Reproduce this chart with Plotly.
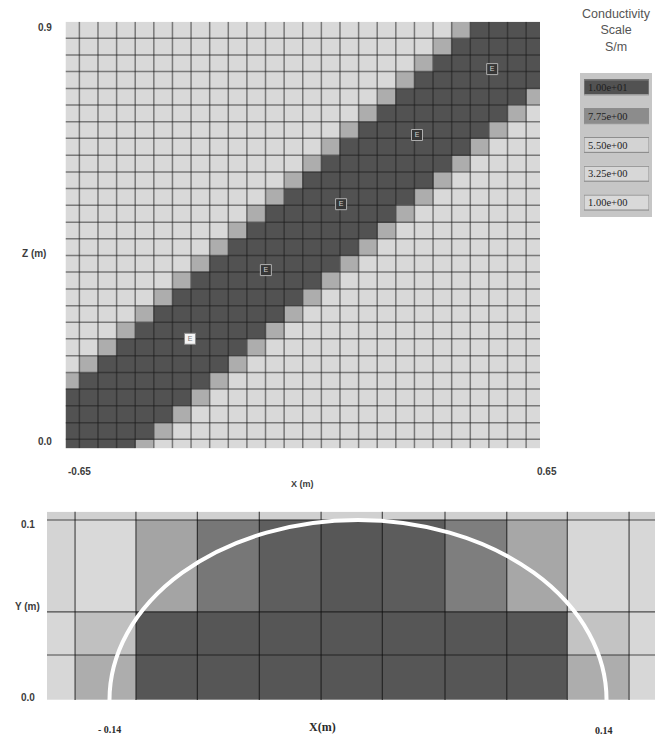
import plotly.graph_objects as go

# ---------------- data ----------------
# Top panel: conductivity map in the X-Z plane, rows listed from top (Z=0.9) to bottom (Z=0)
# L = background (1 S/m), M = transition cells, D = saturated band (10 S/m)
top_rows = [
    "LLLLLLLLLLLLLLLLLLLLLMDDDD",
    "LLLLLLLLLLLLLLLLLLLLMDDDDD",
    "LLLLLLLLLLLLLLLLLLLMDDDDDD",
    "LLLLLLLLLLLLLLLLLLMDDDDDDD",
    "LLLLLLLLLLLLLLLLLMDDDDDDDM",
    "LLLLLLLLLLLLLLLLMDDDDDDDML",
    "LLLLLLLLLLLLLLLMDDDDDDDMLL",
    "LLLLLLLLLLLLLLMDDDDDDDMLLL",
    "LLLLLLLLLLLLLMDDDDDDDMLLLL",
    "LLLLLLLLLLLLMDDDDDDDMLLLLL",
    "LLLLLLLLLLLMDDDDDDDMLLLLLL",
    "LLLLLLLLLLMDDDDDDDMLLLLLLL",
    "LLLLLLLLLMDDDDDDDMLLLLLLLL",
    "LLLLLLLLMDDDDDDDMLLLLLLLLL",
    "LLLLLLLMDDDDDDDMLLLLLLLLLL",
    "LLLLLLMDDDDDDDMLLLLLLLLLLL",
    "LLLLLMDDDDDDDMLLLLLLLLLLLL",
    "LLLLMDDDDDDDMLLLLLLLLLLLLL",
    "LLLMDDDDDDDMLLLLLLLLLLLLLL",
    "LLMDDDDDDDMLLLLLLLLLLLLLLL",
    "LMDDDDDDDMLLLLLLLLLLLLLLLL",
    "MDDDDDDDMLLLLLLLLLLLLLLLLL",
    "DDDDDDDMLLLLLLLLLLLLLLLLLL",
    "DDDDDDMLLLLLLLLLLLLLLLLLLL",
    "DDDDDMLLLLLLLLLLLLLLLLLLLL",
    "DDDDMLLLLLLLLLLLLLLLLLLLLL",
]
cell_level = {"L": 1.0, "M": 6.7, "D": 10.0}

top_x_edges = [-0.65, -0.612, -0.561, -0.510, -0.459, -0.408, -0.357, -0.306, -0.255,
               -0.204, -0.153, -0.102, -0.051, 0.000, 0.051, 0.102, 0.153, 0.204,
               0.255, 0.306, 0.357, 0.408, 0.459, 0.510, 0.561, 0.612, 0.65]
top_z_edges = [0.0, 0.019, 0.054, 0.090, 0.125, 0.160, 0.195, 0.231, 0.266, 0.301,
               0.336, 0.372, 0.407, 0.442, 0.477, 0.513, 0.548, 0.583, 0.618, 0.654,
               0.689, 0.724, 0.759, 0.795, 0.830, 0.865, 0.9]

electrode_x = [-0.309, -0.101, 0.105, 0.313, 0.519]
electrode_z = [0.231, 0.376, 0.515, 0.661, 0.800]
electrode_tag = ["E", "E", "E", "E", "E"]

# Bottom panel: cross-section in the X-Y plane (rows listed bottom -> top)
bot_x_edges = [-0.1752, -0.1594, -0.1251, -0.0905, -0.0556, -0.0208, 0.0137,
               0.0490, 0.0838, 0.1179, 0.1527, 0.1673]
bot_y_edges = [0.0, 0.025, 0.049, 0.100, 0.1046]
bot_rows = [
    [3.0, 6.7, 9.85, 9.85, 9.85, 9.85, 9.85, 9.85, 9.85, 6.7, 3.0],
    [3.0, 6.1, 9.85, 9.85, 9.85, 9.85, 9.85, 9.85, 9.85, 6.0, 3.0],
    [4.8, 1.5, 7.0, 8.56, 9.53, 9.8, 9.6, 8.3, 6.9, 3.0, 3.0],
    [5.6, 5.6, 5.6, 5.6, 5.6, 5.6, 5.6, 5.6, 5.6, 5.6, 5.6],
]
body_half_width = 0.14
body_height = 0.10

# Conductivity scale (S/m), top to bottom
legend_levels = [10.0, 7.75, 5.5, 3.25, 1.0]
legend_labels = ["1.00e+01", "7.75e+00", "5.50e+00", "3.25e+00", "1.00e+00"]

# ---------------- figure ----------------
W, H = 655, 736
gray_scale = [[0.0, "#d9d9d9"], [0.25, "#d7d7d7"], [0.5, "#d3d3d3"],
              [0.75, "#8c8c8c"], [1.0, "#525252"]]

fig = go.Figure()

z_top = [[cell_level[ch] for ch in row] for row in reversed(top_rows)]
fig.add_trace(go.Heatmap(x=top_x_edges, y=top_z_edges, z=z_top, colorscale=gray_scale,
                         zmin=1, zmax=10, showscale=False, hoverinfo="skip",
                         xaxis="x", yaxis="y"))

# cell outlines of the top mesh (drawn as one line trace so that electrodes sit on top)
gx, gy = [], []
for e in top_x_edges[1:-1]:
    gx += [e, e, None]
    gy += [top_z_edges[0], top_z_edges[-1], None]
for e in top_z_edges[1:-1]:
    gx += [top_x_edges[0], top_x_edges[-1], None]
    gy += [e, e, None]
fig.add_trace(go.Scatter(x=gx, y=gy, mode="lines", line=dict(color="rgba(25,25,25,0.5)", width=1.5),
                         hoverinfo="skip", showlegend=False, xaxis="x", yaxis="y"))

fig.add_trace(go.Scatter(
    x=electrode_x, y=electrode_z, mode="markers+text", text=electrode_tag,
    textposition="middle center",
    textfont=dict(size=7, color=["#777777", "#cfcfcf", "#cfcfcf", "#cfcfcf", "#cfcfcf"],
                  family="Liberation Sans"),
    marker=dict(symbol="square", size=11,
                color=["#f4f4f4", "#363636", "#363636", "#363636", "#363636"],
                line=dict(color=["#8a8a8a", "#b0b0b0", "#b0b0b0", "#b0b0b0", "#b0b0b0"], width=1)),
    hoverinfo="skip", showlegend=False, xaxis="x", yaxis="y"))

fig.add_trace(go.Heatmap(x=bot_x_edges, y=bot_y_edges, z=bot_rows, colorscale=gray_scale,
                         zmin=1, zmax=10, showscale=False, hoverinfo="skip",
                         xaxis="x2", yaxis="y2"))

leg_edges = list(range(len(legend_levels) + 1))
fig.add_trace(go.Heatmap(x=[0, 1], y=leg_edges,
                         z=[[v] for v in reversed(legend_levels)],
                         colorscale=gray_scale, zmin=1, zmax=10, showscale=False,
                         ygap=13.8, hoverinfo="skip", xaxis="x3", yaxis="y3"))

shapes = []
# legend panel
shapes.append(dict(type="rect", xref="paper", yref="paper", x0=580 / W, x1=652 / W,
                   y0=1 - 217 / H, y1=1 - 73 / H, fillcolor="#c6c6c6",
                   line=dict(width=0), layer="below"))
# legend box outlines
g = (13.8 / 2) / (144 / 5)
for i in range(len(legend_levels)):
    shapes.append(dict(type="rect", xref="x3", yref="y3", x0=0, x1=1, y0=i + g, y1=i + 1 - g,
                       line=dict(color="#8e8e8e", width=1), fillcolor="rgba(0,0,0,0)"))
# bottom grid lines
grid_bot = dict(color="rgba(15,15,15,0.7)", width=1.2)
for e in bot_x_edges[1:-1]:
    shapes.append(dict(type="line", xref="x2", yref="y2 domain", x0=e, x1=e, y0=0, y1=1,
                       line=grid_bot))
for e in bot_y_edges[1:-1]:
    shapes.append(dict(type="line", xref="x2 domain", yref="y2", x0=0, x1=1, y0=e, y1=e,
                       line=grid_bot))
# body outline (half ellipse)
shapes.append(dict(type="circle", xref="x2", yref="y2",
                   x0=-body_half_width, x1=body_half_width,
                   y0=-body_height, y1=body_height,
                   line=dict(color="white", width=4), fillcolor="rgba(0,0,0,0)"))

sans_b = dict(family="Liberation Sans", size=10, color="#3c3c3c")
serif_b = dict(family="Liberation Serif", size=10, color="#2a2a2a")

ann = []
def add(text, x, y, xref, yref, font, xanchor="center", yanchor="middle", xs=0, ys=0):
    ann.append(dict(text=text, x=x, y=y, xref=xref, yref=yref, showarrow=False,
                    font=font, xanchor=xanchor, yanchor=yanchor, xshift=xs, yshift=ys))

# top panel labels
add("<b>0.9</b>", -0.65, 0.9, "x", "y", sans_b, xanchor="right", xs=-12, ys=-6)
add("<b>0.0</b>", -0.65, 0.0, "x", "y", sans_b, xanchor="right", xs=-12, ys=7)
add("<b>Z (m)</b>", -0.65, 0.41, "x", "y", sans_b, xanchor="right", xs=-18)
add("<b>-0.65</b>", -0.65, 0.0, "x", "y", sans_b, xanchor="left", yanchor="top", ys=-16)
add("<b>0.65</b>", 0.65, 0.0, "x", "y", sans_b, yanchor="top", xs=7, ys=-16)
add("<b>X (m)</b>", 0.0, 0.0, "x", "y", dict(family="Liberation Sans", size=9, color="#3c3c3c"),
    yanchor="top", ys=-29)

# bottom panel labels
add("<b>0.1</b>", bot_x_edges[0], 0.1, "x2", "y2", sans_b, xanchor="right", xs=-10, ys=-5)
add("<b>0.0</b>", bot_x_edges[0], 0.0, "x2", "y2", sans_b, xanchor="right", xs=-10, ys=3)
add("<b>Y (m)</b>", bot_x_edges[0], 0.0517, "x2", "y2", sans_b, xanchor="right", xs=-5)
add("<b>- 0.14</b>", -0.14, 0.0, "x2", "y2", serif_b, ys=-29)
add("<b>X(m)</b>", -0.02, 0.0, "x2", "y2", dict(family="Liberation Serif", size=12, color="#2a2a2a"), ys=-27)
add("<b>0.14</b>", 0.14, 0.0, "x2", "y2", serif_b, xs=-3, ys=-30)

# legend labels and title
for i, lab in enumerate(legend_labels):
    add(lab, 0.03, len(legend_labels) - i - 0.5, "x3", "y3",
        dict(family="Liberation Serif", size=10.5, color="#1e1e1e"), xanchor="left")
ann.append(dict(text="Conductivity<br>Scale<br>S/m", x=616 / W, y=1 - 5 / H,
                xref="paper", yref="paper", showarrow=False, xanchor="center",
                yanchor="top", align="center",
                font=dict(family="Liberation Sans", size=12.5, color="#555555")))

hidden = dict(visible=False, showgrid=False, zeroline=False)
fig.update_layout(
    width=W, height=H, margin=dict(l=0, r=0, t=0, b=0),
    paper_bgcolor="white", plot_bgcolor="white", showlegend=False,
    font=dict(family="Liberation Sans"),
    xaxis=dict(domain=[65.5 / W, 540 / W], range=[-0.65, 0.65], **hidden),
    yaxis=dict(domain=[1 - 448.3 / H, 1 - 21.7 / H], range=[0, 0.9], **hidden),
    xaxis2=dict(domain=[47 / W, 1.0], range=[bot_x_edges[0], bot_x_edges[-1]], **hidden),
    yaxis2=dict(domain=[1 - 700 / H, 1 - 511.7 / H], range=[0, bot_y_edges[-1]], **hidden),
    xaxis3=dict(domain=[584 / W, 649 / W], range=[0, 1], **hidden),
    yaxis3=dict(domain=[1 - 217 / H, 1 - 73 / H], range=[0, len(legend_levels)], **hidden),
    shapes=shapes, annotations=ann,
)

fig.write_html("out.html")
